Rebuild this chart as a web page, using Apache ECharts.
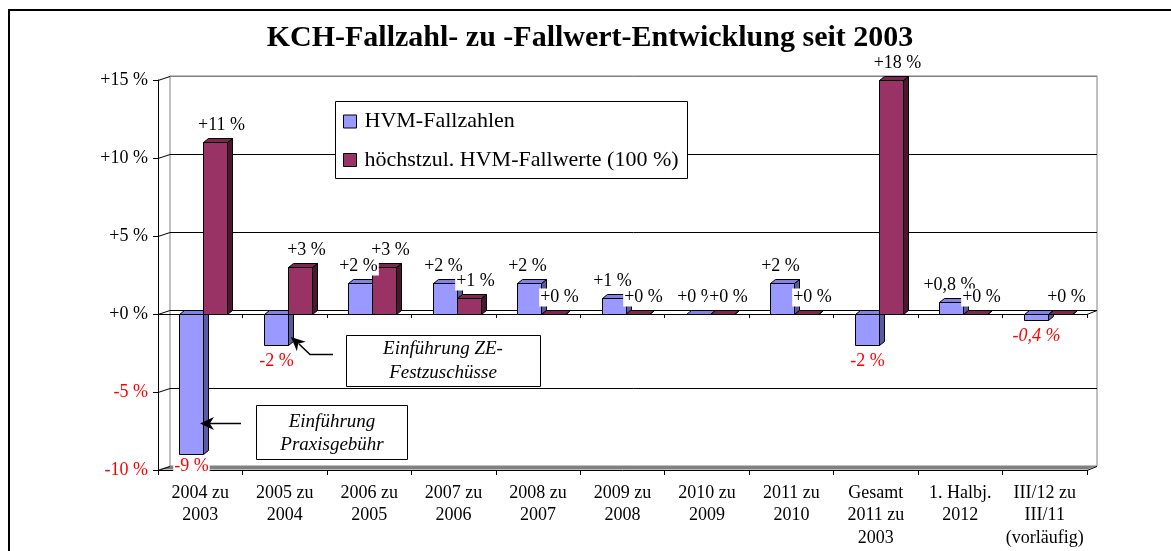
<!DOCTYPE html>
<html>
<head>
<meta charset="utf-8">
<script src="https://cdn.jsdelivr.net/npm/echarts@6/dist/echarts.min.js"></script>
<style>
html,body{margin:0;padding:0;background:#fff;}
#c{width:1171px;height:551px;}
</style>
</head>
<body>
<div id="c"></div>
<script>
// ---------- data ----------
const chartTitle = 'KCH-Fallzahl- zu -Fallwert-Entwicklung seit 2003';
const categories = ['2004 zu\n2003', '2005 zu\n2004', '2006 zu\n2005', '2007 zu\n2006', '2008 zu\n2007',
  '2009 zu\n2008', '2010 zu\n2009', '2011 zu\n2010', 'Gesamt\n2011 zu\n2003', '1. Halbj.\n2012',
  'III/12 zu\nIII/11\n(vorläufig)'];
const seriesNames = ['HVM-Fallzahlen', 'höchstzul. HVM-Fallwerte (100 %)'];
const fallzahlen = [-9, -2, 2, 2, 2, 1, 0, 2, -2, 0.8, -0.4];
const fallwerte = [11, 3, 3, 1, 0, 0, 0, 0, 18, 0, 0];
const yTicks = [-10, -5, 0, 5, 10, 15];
const provisionalIndex = 10;
const noteTexts = ['Einführung\nPraxisgebühr', 'Einführung ZE-\nFestzuschüsse'];

// ---------- layout / style ----------
const FONT = '"Liberation Serif", "Times New Roman", serif';
const FRONT = {left: 158, top: 80, width: 929, height: 390};
const WALL = {x: 12, y: 4};
const BACK = {left: FRONT.left + WALL.x, top: FRONT.top - WALL.y, width: FRONT.width - 2, height: FRONT.height};
const BAR3D = {x: 5, y: 4};
const yMin = yTicks[0], yMax = yTicks[yTicks.length - 1], yStep = yTicks[1] - yTicks[0];

const COLORS = [
  {front: '#9999FF', top: '#8282E0', side: '#5A5A9E'},
  {front: '#993366', top: '#7A2850', side: '#4A1730'}
];
const BAR_POS = [{off: -0.2485, w: 0.284, labelDx: -2}, {off: 0.0355, w: 0.284, labelDx: 6}];

function pct(v) {
  v = Number(v);
  const s = String(Math.abs(v)).replace('.', ',');
  return (v < 0 ? '-' : '+') + s + ' %';
}
const crisp = v => Math.round(v) + 0.5;

function makeRender(k) {
  const col = COLORS[k], pos = BAR_POS[k];
  return function (params, api) {
    const i = api.value(0), v = api.value(1);
    const cs = params.coordSys;
    const p0 = api.coord([i, 0]);
    const pv = api.coord([i, v]);
    const bw = api.size([1, 0])[0];
    const x = crisp(p0[0] + bw * pos.off);
    const w = Math.round(bw * pos.w);
    let yT = Math.min(p0[1], pv[1]), yB = Math.max(p0[1], pv[1]);
    yT = crisp(Math.max(yT, cs.y));
    yB = crisp(Math.min(yB, cs.y + cs.height));
    const dx = BAR3D.x, dy = BAR3D.y;
    const st = (fill) => ({fill: fill, stroke: '#000', lineWidth: 1});
    const children = [
      {type: 'polygon', z2: 1, shape: {points: [[x + w, yT], [x + w + dx, yT - dy], [x + w + dx, yB - dy], [x + w, yB]]}, style: st(col.side)},
      {type: 'polygon', z2: 1, shape: {points: [[x, yT], [x + dx, yT - dy], [x + w + dx, yT - dy], [x + w, yT]]}, style: st(col.top)},
      {type: 'rect', z2: 2, shape: {x: x, y: yT, width: w, height: yB - yT}, style: st(col.front)}
    ];
    let lx, ly;
    if (v >= 0) {
      lx = x + w / 2 + pos.labelDx;
      ly = yT - dy - 13;
    } else {
      lx = x + w / 2;
      ly = Math.min(yB + 16, cs.y + cs.height - 4);
    }
    const italic = (k === 0 && i === provisionalIndex) ? 'italic ' : '';
    children.push({
      type: 'text', z2: 100 + k,
      style: {
        text: pct(v), x: lx, y: ly, align: 'center', verticalAlign: 'middle',
        fill: v < 0 ? '#FF0000' : '#000',
        font: italic + '18px ' + FONT,
        backgroundColor: '#fff', padding: [0, 1]
      }
    });
    return {type: 'group', children: children};
  };
}

const chart = echarts.init(document.getElementById('c'), null, {renderer: 'canvas'});

const option = {
  animation: false,
  backgroundColor: '#fff',
  textStyle: {fontFamily: FONT},
  grid: [
    {left: FRONT.left, top: FRONT.top, width: FRONT.width, height: FRONT.height, containLabel: false},
    {left: BACK.left, top: BACK.top, width: BACK.width, height: BACK.height, show: true,
      backgroundColor: '#fff', borderColor: '#808080', borderWidth: 1}
  ],
  xAxis: [
    {type: 'category', gridIndex: 0, data: categories, position: 'bottom',
      axisLine: {onZero: false, lineStyle: {color: '#000', width: 1}},
      axisTick: {show: true, length: 5, lineStyle: {color: '#000'}},
      axisLabel: {interval: 0, margin: 12, fontSize: 18, lineHeight: 22.5, color: '#000', fontFamily: FONT},
      splitLine: {show: false}},
    {type: 'category', gridIndex: 0, data: categories, position: 'top',
      axisLine: {onZero: true, lineStyle: {color: '#000', width: 1}},
      axisTick: {show: true, inside: true, length: 4, lineStyle: {color: '#000'}},
      axisLabel: {show: false}, splitLine: {show: false}},
    {type: 'category', gridIndex: 1, data: categories, show: false}
  ],
  yAxis: [
    {type: 'value', gridIndex: 0, min: yMin, max: yMax, interval: yStep,
      axisLine: {show: true, lineStyle: {color: '#000', width: 1}},
      axisTick: {show: true, length: 5, lineStyle: {color: '#000'}},
      axisLabel: {margin: 10, fontSize: 18, fontFamily: FONT, formatter: pct,
        color: (val) => Number(val) < 0 ? '#FF0000' : '#000'},
      splitLine: {show: false}},
    {type: 'value', gridIndex: 1, min: yMin, max: yMax, interval: yStep,
      axisLine: {show: false}, axisTick: {show: false}, axisLabel: {show: false},
      splitLine: {show: true, lineStyle: {color: ['#808080', '#000', '#000', '#000', '#000', '#808080'], width: 1}}}
  ],
  legend: {
    orient: 'vertical', left: 343, top: 110.5, padding: 0, itemGap: 16.5,
    itemWidth: 13, itemHeight: 13, icon: 'rect', selectedMode: false,
    itemStyle: {borderColor: '#000', borderWidth: 1},
    textStyle: {fontFamily: FONT, fontSize: 22, lineHeight: 22, color: '#000', padding: [0, 0, 0, 3]},
    z: 6, data: seriesNames
  },
  series: [
    {type: 'custom', name: seriesNames[0], coordinateSystem: 'cartesian2d', xAxisIndex: 0, yAxisIndex: 0,
      data: fallzahlen.map((v, i) => [i, v]), encode: {x: 0, y: 1},
      itemStyle: {color: COLORS[0].front}, renderItem: makeRender(0), z: 2},
    {type: 'custom', name: seriesNames[1], coordinateSystem: 'cartesian2d', xAxisIndex: 0, yAxisIndex: 0,
      data: fallwerte.map((v, i) => [i, v]), encode: {x: 0, y: 1},
      itemStyle: {color: COLORS[1].front}, renderItem: makeRender(1), z: 2}
  ]
};
chart.setOption(option);

// ---------- decorations derived from the axes ----------
const yF = v => chart.convertToPixel({yAxisIndex: 0}, v);
const yBk = v => chart.convertToPixel({yAxisIndex: 1}, v);
const fRight = FRONT.left + FRONT.width, bRight = BACK.left + BACK.width;

function arrowHead(tip, from, len, half) {
  const dx = tip[0] - from[0], dy = tip[1] - from[1];
  const L = Math.hypot(dx, dy), ux = dx / L, uy = dy / L, px = -uy, py = ux;
  const bx = tip[0] - ux * len, by = tip[1] - uy * len;
  const nx = tip[0] - ux * len * 0.7, ny = tip[1] - uy * len * 0.7;
  return [tip, [bx + px * half, by + py * half], [nx, ny], [bx - px * half, by - py * half]];
}

const g = [];
// outer frame
g.push({type: 'rect', z: 0, silent: true, shape: {x: 9, y: 10, width: 1300, height: 700},
  style: {fill: 'none', stroke: '#000', lineWidth: 2}});
// title
g.push({type: 'text', z: 5, x: 590, y: 38, style: {text: chartTitle, font: 'bold 30px ' + FONT,
  fill: '#000', align: 'center', verticalAlign: 'middle'}});
// floor
g.push({type: 'polygon', z: 1, silent: true, shape: {points: [
  [FRONT.left, yF(yMin) - 0.5], [BACK.left, yBk(yMin)], [bRight, yBk(yMin)], [fRight, yF(yMin) - 0.5]]},
  style: {fill: '#808080'}});
// side wall connector lines
yTicks.forEach(v => {
  g.push({type: 'line', z: 1, silent: true, shape: {x1: FRONT.left, y1: crisp(yF(v)), x2: BACK.left, y2: crisp(yBk(v))},
    style: {stroke: '#000', lineWidth: 1}});
});
[yMin, 0].forEach(v => {
  g.push({type: 'line', z: 1, silent: true, shape: {x1: fRight, y1: crisp(yF(v)), x2: bRight, y2: crisp(yBk(v))},
    style: {stroke: '#000', lineWidth: 1}});
});
// legend frame
g.push({type: 'rect', z: 4, silent: true, shape: {x: 335.5, y: 101.5, width: 352, height: 77},
  style: {fill: '#fff', stroke: '#000', lineWidth: 1}});
// annotation 1
g.push({type: 'rect', z: 4, silent: true, shape: {x: 256.5, y: 405.5, width: 151, height: 54},
  style: {fill: '#fff', stroke: '#000', lineWidth: 1}});
g.push({type: 'text', z: 5, x: 332, y: 433, style: {text: noteTexts[0], font: 'italic 19px ' + FONT,
  lineHeight: 23, fill: '#000', align: 'center', verticalAlign: 'middle'}});
g.push({type: 'polyline', z: 5, silent: true, shape: {points: [[241, 423.5], [210, 423.5]]},
  style: {stroke: '#000', lineWidth: 1.5, fill: null}});
g.push({type: 'polygon', z: 5, silent: true, shape: {points: arrowHead([200, 423.5], [241, 423.5], 14, 6.5)},
  style: {fill: '#000'}});
// annotation 2
g.push({type: 'rect', z: 4, silent: true, shape: {x: 346.5, y: 335.5, width: 194, height: 51},
  style: {fill: '#fff', stroke: '#000', lineWidth: 1}});
g.push({type: 'text', z: 5, x: 443, y: 361, style: {text: noteTexts[1], font: 'italic 19px ' + FONT,
  lineHeight: 24, fill: '#000', align: 'center', verticalAlign: 'middle'}});
g.push({type: 'polyline', z: 5, silent: true, shape: {points: [[333, 354.5], [310, 354.5], [299, 344]]},
  style: {stroke: '#000', lineWidth: 1.5, fill: null}});
g.push({type: 'polygon', z: 5, silent: true, shape: {points: arrowHead([291, 337], [310, 354.5], 14, 6.5)},
  style: {fill: '#000'}});

chart.setOption({graphic: g});
</script>
</body>
</html>
